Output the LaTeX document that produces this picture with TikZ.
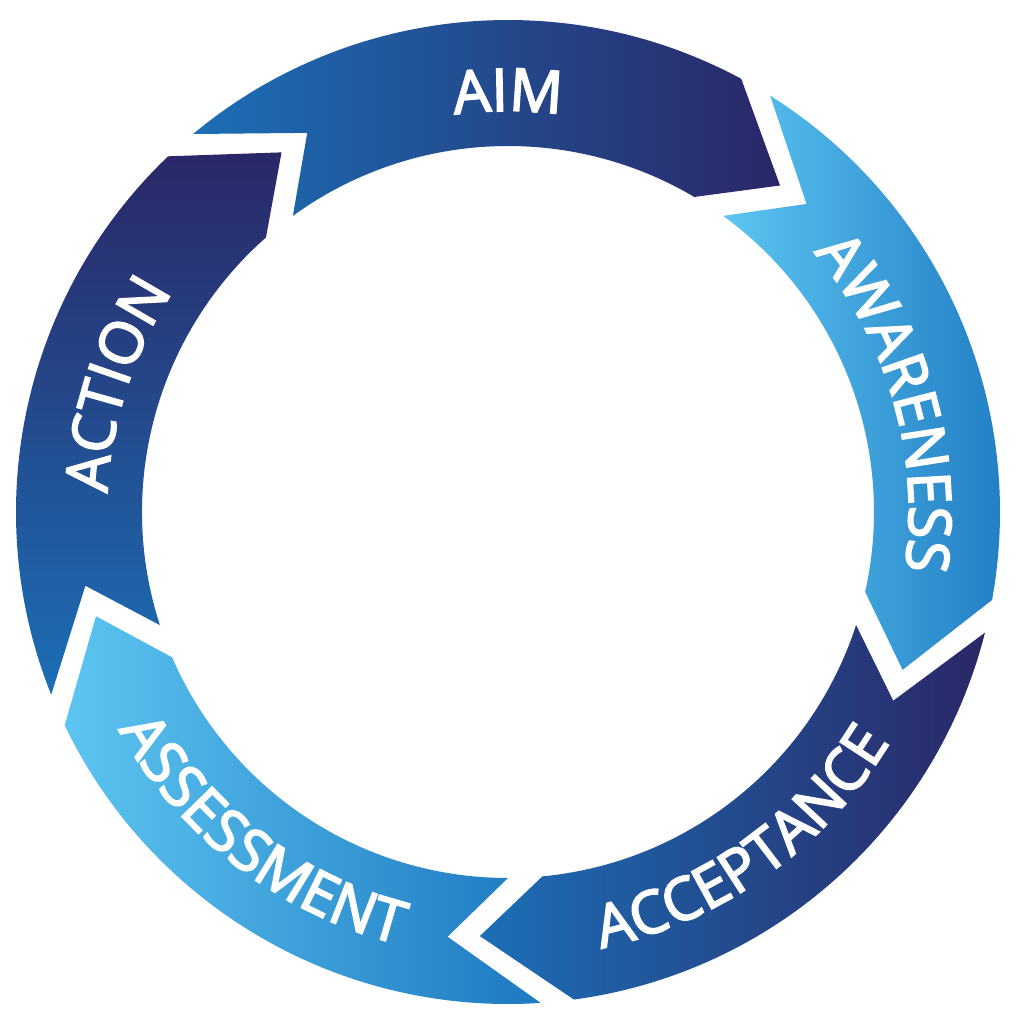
\documentclass[tikz,border=0pt]{standalone}
\usepackage{fontspec}
\setmainfont{Open Sans}
\newfontfamily\ringface{Open Sans}[FakeBold=3]
\usetikzlibrary{decorations.text}
\definecolor{navy}{HTML}{2A2767}
\definecolor{midblue}{HTML}{1C6FB6}
\definecolor{lightblue}{HTML}{5CC5F1}
\definecolor{brightblue}{HTML}{1D79C1}
\newcommand\labelfont{\ringface\fontsize{59}{70}\selectfont}
\begin{document}
\begin{tikzpicture}[x=1pt,y=1pt,
	ringtext/.style={decorate,decoration={text along path,text align=center,text color=white,text={|\labelfont|#1}}}]
	\useasboundingbox (-508,-512) rectangle (509,512);
	\fill[white] (-508,-512) rectangle (509,512);
	% arrows of the ring
	\shade[left color=midblue,right color=navy] (129.8:492) arc[start angle=129.8,end angle=61.7,radius=492] -- (50.2:425) -- (59.4:366) arc[start angle=59.4,end angle=126.0,radius=366] -- (117.9:429) -- cycle;
	\shade[left color=lightblue,right color=brightblue] (57.8:492) arc[start angle=57.8,end angle=-10.3,radius=492] -- (-21.8:425) -- (-12.6:366) arc[start angle=-12.6,end angle=54.0,radius=366] -- (45.9:429) -- cycle;
	\shade[left color=midblue,right color=navy] (-14.2:492) arc[start angle=-14.2,end angle=-82.3,radius=492] -- (-93.8:425) -- (-84.6:366) arc[start angle=-84.6,end angle=-18.0,radius=366] -- (-26.1:429) -- cycle;
	\shade[left color=lightblue,right color=brightblue] (-86.2:492) arc[start angle=-86.2,end angle=-154.3,radius=492] -- (-165.8:425) -- (-156.6:366) arc[start angle=-156.6,end angle=-90.0,radius=366] -- (-98.1:429) -- cycle;
	\shade[top color=navy,bottom color=midblue] (-158.2:492) arc[start angle=-158.2,end angle=-226.3,radius=492] -- (-237.8:425) -- (-228.6:366) arc[start angle=-228.6,end angle=-162.0,radius=366] -- (-170.1:429) -- cycle;
	% labels
	\path[ringtext=AIM] (120:401) arc[start angle=120,end angle=60,radius=401];
	\path[ringtext=AWARENESS] (46:401) arc[start angle=46,end angle=-14,radius=401];
	\path[ringtext=ACCEPTANCE] (-84.5:446) arc[start angle=-84.5,end angle=-24.5,radius=446];
	\path[ringtext=ASSESSMENT] (-157.5:446) arc[start angle=-157.5,end angle=-97.5,radius=446];
	\path[ringtext=ACTION] (192:401) arc[start angle=192,end angle=132,radius=401];
\end{tikzpicture}
\end{document}
